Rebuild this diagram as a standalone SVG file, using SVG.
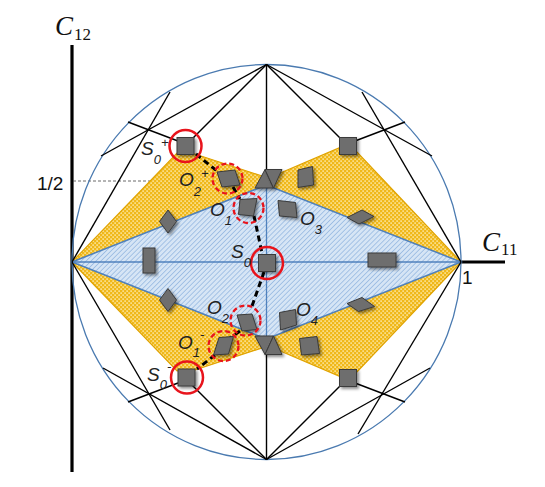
<svg xmlns="http://www.w3.org/2000/svg" width="545" height="487" viewBox="0 0 545 487">
<defs>
<pattern id="dots" width="4" height="4" patternUnits="userSpaceOnUse">
<rect width="4" height="4" fill="#f0b81a"/>
<rect x="0.4" y="0.4" width="1.4" height="1.4" fill="#fff3c4"/>
<rect x="2.4" y="2.4" width="1.4" height="1.4" fill="#fff3c4"/>
</pattern>
<pattern id="hatch" width="3.5" height="3.5" patternUnits="userSpaceOnUse" patternTransform="rotate(45)">
<rect width="3.5" height="3.5" fill="#d6e5f5"/>
<line x1="0" y1="0" x2="0" y2="3.5" stroke="#7aa6d8" stroke-width="1.1"/>
</pattern>
<filter id="sh" x="-30%" y="-30%" width="160%" height="160%">
<feDropShadow dx="2" dy="2" stdDeviation="1.4" flood-color="#000" flood-opacity="0.45"/>
</filter>
</defs>
<style>
.blk{stroke:#000;stroke-width:1.4;fill:none}
.shape{fill:#6e6e6e;stroke:#3a3a3a;stroke-width:1;filter:url(#sh)}
.rc{fill:none;stroke:#e8141c;stroke-width:2.5}
.rcd{fill:none;stroke:#e8141c;stroke-width:2.3;stroke-dasharray:5 3}
.lbl{font-family:"Liberation Sans",Arial,sans-serif;font-style:italic;font-size:19px;fill:#222}
.s{font-size:13px}
.num{font-family:"Liberation Sans",Arial,sans-serif;font-size:19px;fill:#111}
.ax{font-family:"Liberation Serif","Times New Roman",serif;fill:#111;font-size:27px}
</style>

<g id="axes">
<line x1="72" y1="45" x2="72" y2="472" stroke="#000" stroke-width="3.2"/>
<line x1="461" y1="262" x2="505" y2="262" stroke="#000" stroke-width="3.2"/>
<line x1="73" y1="181" x2="217" y2="181" stroke="#444" stroke-width="0.8" stroke-dasharray="3 2"/>
<text class="ax" x="55" y="35"><tspan font-style="italic">C</tspan><tspan font-size="17" dx="1" dy="5">12</tspan></text>
<text class="ax" x="482" y="251"><tspan font-style="italic">C</tspan><tspan font-size="17" dx="1" dy="4">11</tspan></text>
<text class="num" x="37" y="190">1/2</text>
<text class="num" x="462" y="284">1</text>
</g>

<g id="regions">
<polygon points="72,262 177,153 195,154 262,176 266.5,185" fill="url(#dots)" stroke="#e0a300" stroke-width="1.2"/>
<polygon points="271,177 339,148 357,152 461,262 266.5,185" fill="url(#dots)" stroke="#e0a300" stroke-width="1.2"/>
<polygon points="72,262 177,371 195,370 262,348 266.5,339" fill="url(#dots)" stroke="#e0a300" stroke-width="1.2"/>
<polygon points="271,347 339,376 357,372 461,262 266.5,339" fill="url(#dots)" stroke="#e0a300" stroke-width="1.2"/>
<polygon points="72,262 266.5,185 461,262 266.5,339" fill="url(#hatch)" stroke="#4f81bd" stroke-width="1.5"/>
<line x1="72" y1="262" x2="461" y2="262" stroke="#4f81bd" stroke-width="1.3"/>
<line x1="266.5" y1="185" x2="266.5" y2="339" stroke="#4f81bd" stroke-width="1.3"/>
</g>

<g id="circle">
<ellipse cx="266.5" cy="262" rx="194.5" ry="197.5" fill="none" stroke="#4a7ab0" stroke-width="1.3"/>
</g>

<g id="connectors">
<line class="blk" x1="266.5" y1="64.5" x2="266.5" y2="170"/>
<line class="blk" x1="266.5" y1="354" x2="266.5" y2="459.5"/>
<line class="blk" x1="266.5" y1="64.5" x2="101" y2="156"/>
<line class="blk" x1="266.5" y1="64.5" x2="192" y2="139"/>
<line class="blk" x1="128" y1="122" x2="178" y2="141"/>
<line class="blk" x1="72" y1="262" x2="170" y2="92"/>
<line class="blk" x1="266.5" y1="64.5" x2="432" y2="156"/>
<line class="blk" x1="266.5" y1="64.5" x2="341" y2="139"/>
<line class="blk" x1="405" y1="122" x2="355" y2="141"/>
<line class="blk" x1="461" y1="262" x2="362" y2="92"/>
<line class="blk" x1="266.5" y1="459.5" x2="103" y2="368"/>
<line class="blk" x1="266.5" y1="459.5" x2="192" y2="385"/>
<line class="blk" x1="128" y1="402" x2="178" y2="383"/>
<line class="blk" x1="72" y1="262" x2="170" y2="430"/>
<line class="blk" x1="266.5" y1="459.5" x2="430" y2="368"/>
<line class="blk" x1="266.5" y1="459.5" x2="341" y2="385"/>
<line class="blk" x1="405" y1="402" x2="355" y2="383"/>
<line class="blk" x1="461" y1="262" x2="358" y2="434"/>
<path d="M196,154 L217,171 M233,187 L240,199 M254,216 L262,253 M264,272 L251,309 M240,331 L230,338 M215,355 L197,369" fill="none" stroke="#000" stroke-width="3" stroke-dasharray="6 4"/>
</g>

<g id="S0plus"><rect class="shape" x="177" y="137.5" width="17" height="17"/><circle class="rc" cx="185.5" cy="146" r="16"/></g>
<g id="S0minus"><rect class="shape" x="178" y="369" width="17" height="17"/><circle class="rc" cx="187" cy="377.5" r="16"/></g>
<g id="S0"><rect class="shape" x="258.5" y="254.5" width="17" height="17"/><circle class="rc" cx="267" cy="263" r="16"/></g>
<g id="sqUR"><rect class="shape" x="339.5" y="137.5" width="17" height="17"/></g>
<g id="sqLR"><rect class="shape" x="339.5" y="369.5" width="17" height="17"/></g>
<g id="O2plus"><polygon class="shape" points="217,172 235,170 240,185 222,187"/><circle class="rcd" cx="227.5" cy="178.5" r="15"/></g>
<g id="O1"><polygon class="shape" points="240,199.5 257,198.5 253.5,216 238.5,214.5"/><circle class="rcd" cx="248.5" cy="208" r="15"/></g>
<g id="O2"><polygon class="shape" points="237,315 252,314 257,329.5 242,331"/><circle class="rcd" cx="245.5" cy="320.5" r="15"/></g>
<g id="O1minus"><polygon class="shape" points="219,337.5 233.5,336.5 228.5,354 213.5,355"/><circle class="rcd" cx="223.5" cy="346" r="15"/></g>
<g id="O3"><polygon class="shape" points="278,200.5 295.5,202.5 297,217.5 279.5,216"/></g>
<g id="O4"><polygon class="shape" points="279.5,312.5 295.5,309.5 296.5,325 280.5,330"/></g>
<g id="pUR"><polygon class="shape" points="298,170 312.5,166.5 313.5,185 298,187.5"/></g>
<g id="pLR"><polygon class="shape" points="299.5,338.5 317,336.5 319.5,353.5 301.5,355"/></g>
<g id="dUL"><polygon class="shape" points="168,210 176.5,221.5 168,233 159.5,221.5"/></g>
<g id="dLL"><polygon class="shape" points="168,288.5 176.5,300 168,311.5 159.5,300"/></g>
<g id="dUR"><polygon class="shape" points="347,217.5 362,210 374,216.5 359,224"/></g>
<g id="dLR"><polygon class="shape" points="347,303.5 362,297.5 374.5,306.5 358.5,311.5"/></g>
<g id="rL"><rect class="shape" x="143" y="248" width="12" height="25"/></g>
<g id="rR"><rect class="shape" x="368" y="253" width="28" height="14"/></g>
<g id="triUp"><polygon class="shape" points="255,188 265,169.5 273.5,188"/><polygon class="shape" points="265,169.5 282,169.5 273.5,188"/></g>
<g id="triLow"><polygon class="shape" points="255,336 273.5,336 265,354.5"/><polygon class="shape" points="265,354.5 282,354.5 273.5,336"/></g>

<g id="labels">
<text class="lbl" x="141" y="155">S<tspan class="s" dy="9">0</tspan><tspan class="s" dy="-17">+</tspan></text>
<text class="lbl" x="179" y="186">O<tspan class="s" dy="10">2</tspan><tspan class="s" dy="-18">+</tspan></text>
<text class="lbl" x="210" y="216">O<tspan class="s" dy="9">1</tspan></text>
<text class="lbl" x="231" y="258">S<tspan class="s" dy="9">0</tspan></text>
<text class="lbl" x="300" y="225">O<tspan class="s" dy="9">3</tspan></text>
<text class="lbl" x="207" y="314">O<tspan class="s" dy="9">2</tspan></text>
<text class="lbl" x="296" y="316">O<tspan class="s" dy="9">4</tspan></text>
<text class="lbl" x="178" y="349">O<tspan class="s" dy="8">1</tspan><tspan class="s" dy="-18">-</tspan></text>
<text class="lbl" x="147" y="381">S<tspan class="s" dy="8">0</tspan><tspan class="s" dy="-18">-</tspan></text>
</g>
</svg>
